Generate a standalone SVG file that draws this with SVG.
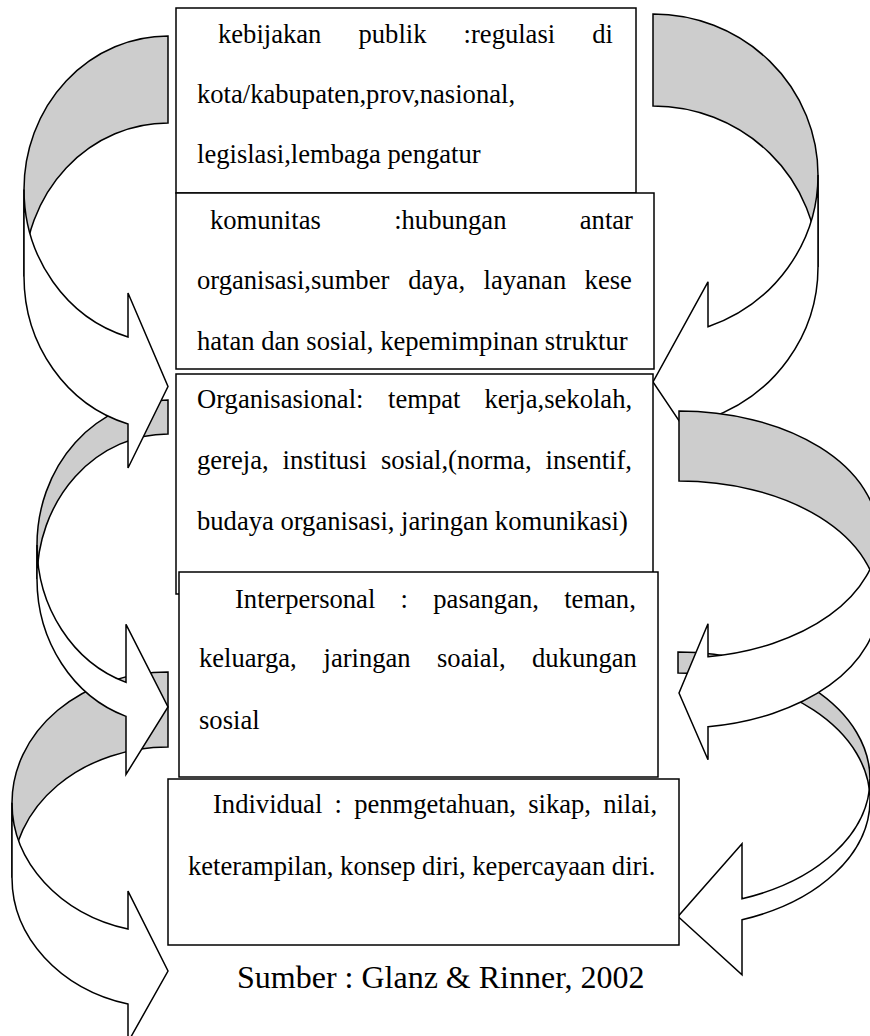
<svg xmlns="http://www.w3.org/2000/svg" width="870" height="1036" viewBox="0 0 870 1036">
<style>
.back{fill:#cdcdcd;stroke:#000;stroke-width:1.5;stroke-linejoin:miter}
.front{fill:#fff;stroke:#000;stroke-width:1.5;stroke-linejoin:miter}
.box{fill:#fff;stroke:#000;stroke-width:1.5}
.t{font-family:"Liberation Serif","Times New Roman",serif;font-size:26.6px;fill:#000}
.src{font-family:"Liberation Serif","Times New Roman",serif;font-size:32px;fill:#000}
</style>
<rect width="870" height="1036" fill="#fff"/>
<g id="connectors">
  <g id="arrow-bottom-left">
    <path class="back" d="M168,672 A156,130.75 0 0 0 12,802.75 L12,877.75 A156,130.75 0 0 1 168,747 Z"/>
    <path class="front" d="M12,802.75 A156,130.75 0 0 0 128,929.1 L128,891.1 L168,971 L128,1042.1 L128,1004.1 A156,130.75 0 0 1 12,877.75 Z"/>
  </g>
  <g id="arrow-mid-left">
    <path class="back" d="M168,400 A131,145 0 0 0 37,545 L37,579 A131,145 0 0 1 168,434 Z"/>
    <path class="front" d="M37,545 A131,145 0 0 0 126,682.34 L126,624.34 L168,707 L126,774.34 L126,716.34 A131,145 0 0 1 37,579 Z"/>
  </g>
  <g id="arrow-top-left">
    <path class="back" d="M168,36 A144,153.5 0 0 0 24,189.5 L24,276.5 A144,153.5 0 0 1 168,123 Z"/>
    <path class="front" d="M24,189.5 A144,153.5 0 0 0 128,336.96 L128,292.96 L168,386.5 L128,467.96 L128,423.96 A144,153.5 0 0 1 24,276.5 Z"/>
  </g>
  <g id="arrow-bottom-right">
    <path class="back" d="M678,652 A192,127 0 0 1 870,779 L870,800 A192,127 0 0 0 678,673 Z"/>
    <path class="front" d="M870,779 A192,127 0 0 1 742,898.74 L742,843.74 L678,916.5 L742,974.74 L742,919.74 A192,127 0 0 0 870,800 Z"/>
  </g>
  <g id="arrow-top-right">
    <path class="back" d="M653,14 A165,161 0 0 1 818,175 L818,267 A165,161 0 0 0 653,106 Z"/>
    <path class="front" d="M818,175 A165,161 0 0 1 708,326.8 L708,281.8 L653,382 L708,463.8 L708,418.8 A165,161 0 0 0 818,267 Z"/>
  </g>
  <g id="arrow-mid-right">
    <path class="back" d="M679,411 A199,123.5 0 0 1 878,534.5 L878,604.5 A199,123.5 0 0 0 679,481 Z"/>
    <path class="front" d="M878,534.5 A199,123.5 0 0 1 708,656.68 L708,623.68 L679,693 L708,759.68 L708,726.68 A199,123.5 0 0 0 878,604.5 Z"/>
  </g>
</g>
<g id="kebijakan">
  <rect class="box" x="176" y="8" width="460" height="185"/>
  <text class="t" y="43"><tspan x="218">kebijakan</tspan><tspan x="358.5">publik</tspan><tspan x="463.6">:regulasi</tspan><tspan x="592.3">di</tspan></text>
  <text class="t" x="197" y="103">kota/kabupaten,prov,nasional,</text>
  <text class="t" x="197" y="163">legislasi,lembaga pengatur</text>
</g>
<g id="komunitas">
  <rect class="box" x="176" y="193" width="478" height="176"/>
  <text class="t" y="229"><tspan x="210">komunitas</tspan><tspan x="394.2">:hubungan</tspan><tspan x="579.8">antar</tspan></text>
  <text class="t" y="289"><tspan x="197">organisasi,sumber</tspan><tspan x="408.2">daya,</tspan><tspan x="483.5">layanan</tspan><tspan x="584.6">kese</tspan></text>
  <text class="t" x="197" y="350">hatan dan sosial, kepemimpinan struktur</text>
</g>
<g id="organisasional">
  <rect class="box" x="176" y="374" width="477" height="220"/>
  <text class="t" y="408"><tspan x="197">Organisasional:</tspan><tspan x="388">tempat</tspan><tspan x="484.4">kerja,sekolah,</tspan></text>
  <text class="t" y="469"><tspan x="197">gereja,</tspan><tspan x="282.6">institusi</tspan><tspan x="380.9">sosial,(norma,</tspan><tspan x="545.6">insentif,</tspan></text>
  <text class="t" x="197" y="530">budaya organisasi, jaringan komunikasi)</text>
</g>
<g id="interpersonal">
  <rect class="box" x="179" y="572" width="479" height="205"/>
  <text class="t" y="608"><tspan x="235">Interpersonal</tspan><tspan x="400.6">:</tspan><tspan x="433.3">pasangan,</tspan><tspan x="564.2">teman,</tspan></text>
  <text class="t" y="667"><tspan x="199">keluarga,</tspan><tspan x="323.5">jaringan</tspan><tspan x="437">soaial,</tspan><tspan x="532">dukungan</tspan></text>
  <text class="t" x="199" y="729">sosial</text>
</g>
<g id="individual">
  <rect class="box" x="168" y="779" width="511" height="166"/>
  <text class="t" y="813"><tspan x="213">Individual</tspan><tspan x="334.6">:</tspan><tspan x="354.2">penmgetahuan,</tspan><tspan x="528.2">sikap,</tspan><tspan x="603.2">nilai,</tspan></text>
  <text class="t" x="188" y="875">keterampilan, konsep diri, kepercayaan diri.</text>
</g>
<g id="source">
  <text class="src" x="237" y="988">Sumber : Glanz &amp; Rinner, 2002</text>
</g>
</svg>
